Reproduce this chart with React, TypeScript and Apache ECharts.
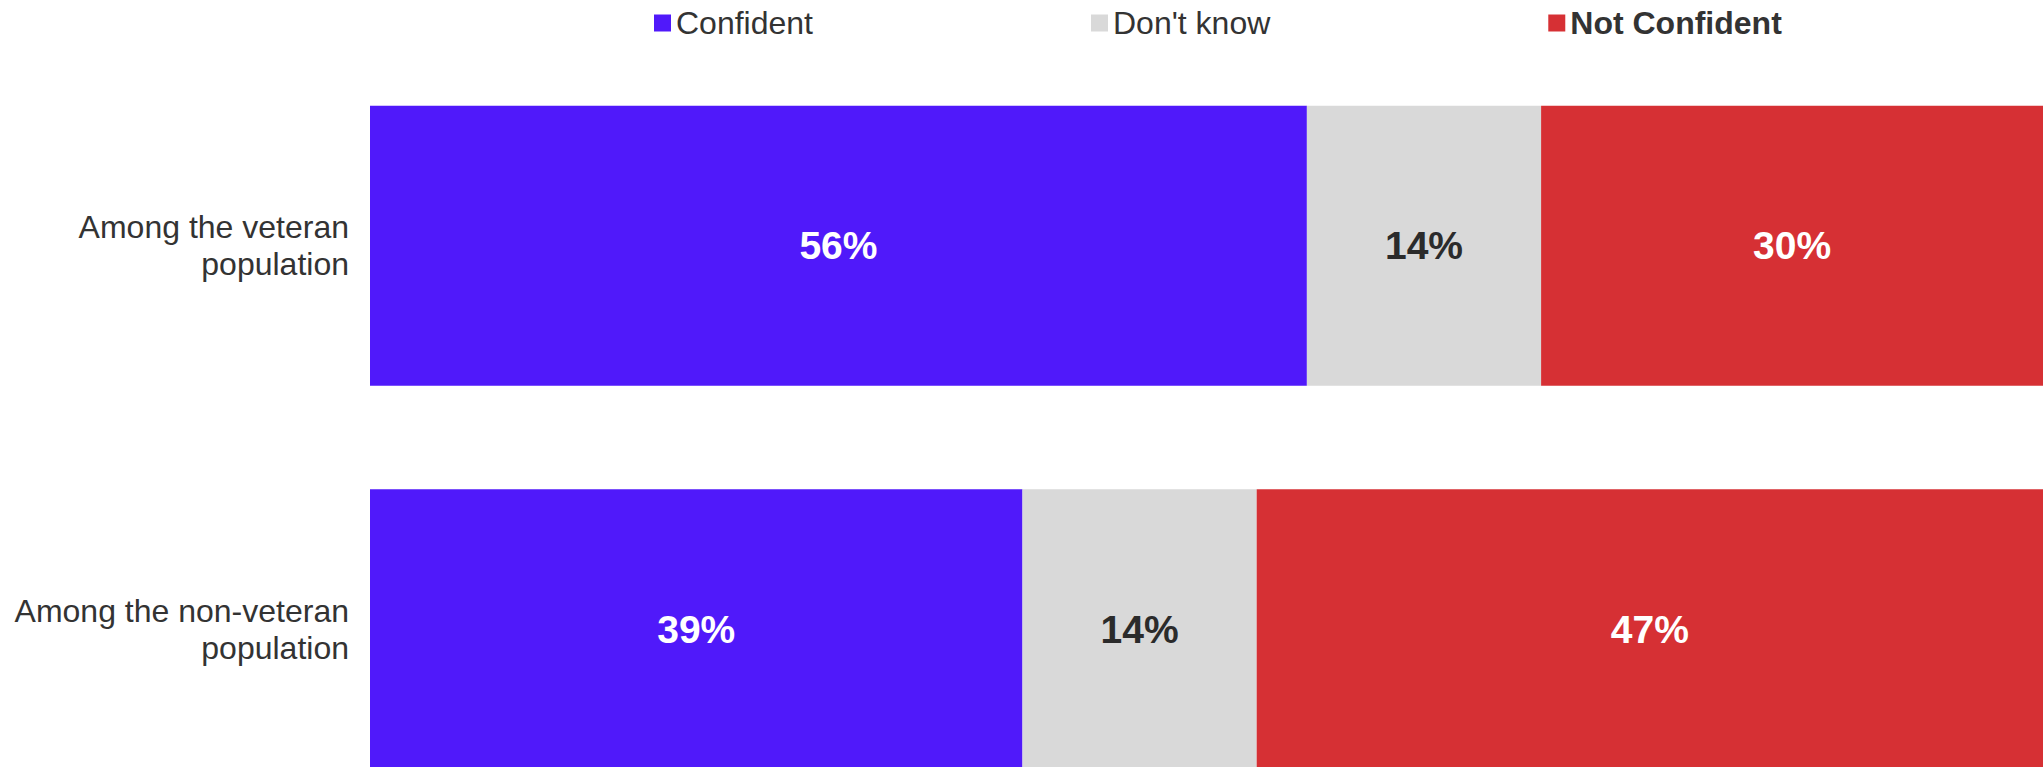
import React, { useEffect, useRef } from "react";
import * as echarts from "echarts";

const categories = ["Among the veteran\npopulation", "Among the non-veteran\npopulation"];
const confident = [56, 39];
const dontKnow = [14, 14];
const notConfident = [30, 47];
const seriesNames = ["Confident", "Don't know", "Not Confident"];
const colors = ["#5019FA", "#D9D9D9", "#D63034"];

export default function App() {
  const ref = useRef<HTMLDivElement>(null);
  useEffect(() => {
    if (!ref.current) return;
    const chart = echarts.init(ref.current, undefined, { renderer: "svg" });
    const font = "Liberation Sans, Arial, sans-serif";
    const mk = (name: string, data: number[], color: string, labelColor: string) => ({
      name,
      type: "bar",
      stack: "total",
      data,
      barWidth: 280,
      itemStyle: { color },
      label: {
        show: true,
        position: "inside",
        formatter: "{c}%",
        color: labelColor,
        fontSize: 39,
        fontWeight: "bold",
        fontFamily: font,
      },
    });
    chart.setOption({
      animation: false,
      legend: {
        left: 649,
        top: 2,
        itemWidth: 17,
        itemHeight: 17,
        itemGap: 278,
        icon: "rect",
        textStyle: { fontSize: 32, color: "#333333", fontFamily: font },
        data: [
          { name: seriesNames[0] },
          { name: seriesNames[1] },
          { name: seriesNames[2], textStyle: { fontWeight: "bold" } },
        ],
      },
      grid: { left: 370, right: 0, top: 54, bottom: 0, containLabel: false },
      xAxis: { type: "value", min: 0, max: 100, show: false },
      yAxis: {
        type: "category",
        data: categories,
        inverse: true,
        axisLine: { show: false },
        axisTick: { show: false },
        axisLabel: {
          fontSize: 32,
          color: "#333333",
          fontFamily: font,
          lineHeight: 37,
          margin: 21,
          align: "right",
        },
      },
      series: [
        mk(seriesNames[0], confident, colors[0], "#FFFFFF"),
        mk(seriesNames[1], dontKnow, colors[1], "#2B2B2B"),
        mk(seriesNames[2], notConfident, colors[2], "#FFFFFF"),
      ],
    });
    return () => chart.dispose();
  }, []);
  return (
    <div
      style={{
        position: "fixed",
        left: 0,
        top: 0,
        width: 2043,
        height: 767,
        overflow: "hidden",
        background: "#fff",
      }}
    >
      <div ref={ref} style={{ width: 2043, height: 821 }} />
    </div>
  );
}
